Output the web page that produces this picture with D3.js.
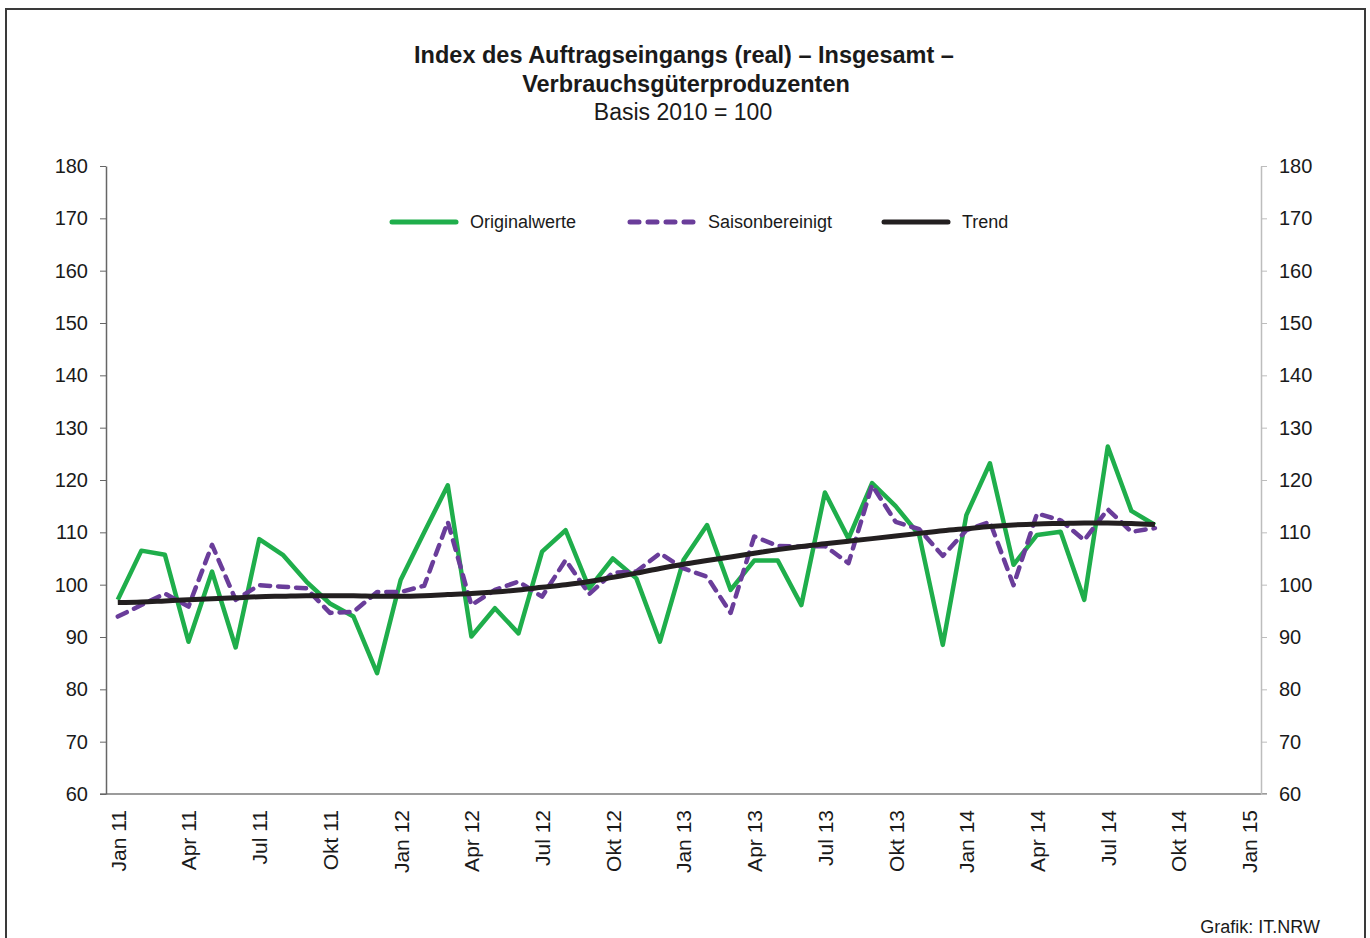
<!DOCTYPE html>
<html>
<head>
<meta charset="utf-8">
<script src="https://cdn.jsdelivr.net/npm/d3@7"></script>
<style>
  body { margin: 0; background: #fff; }
  svg { display: block; font-family: "Liberation Sans", Arial, sans-serif; }
</style>
</head>
<body>
<div id="chart"></div>
<script>
// month index 0 = Jan 11
const tickLabels = ["Jan 11", "Apr 11", "Jul 11", "Okt 11", "Jan 12", "Apr 12", "Jul 12", "Okt 12",
  "Jan 13", "Apr 13", "Jul 13", "Okt 13", "Jan 14", "Apr 14", "Jul 14", "Okt 14", "Jan 15"];

const originalwerte = [97.1, 106.5, 105.7, 89.1, 102.5, 88.0, 108.7, 105.7, 100.6, 96.4, 93.9, 83.1,
  100.9, 110.0, 119.0, 90.1, 95.5, 90.7, 106.3, 110.4, 99.3, 105.0, 101.2, 89.1,
  104.7, 111.4, 99.0, 104.6, 104.6, 96.1, 117.6, 108.8, 119.4, 115.0, 109.5, 88.5,
  113.3, 123.2, 103.8, 109.5, 110.1, 97.1, 126.4, 114.1, 111.4];

const saisonbereinigt = [93.9, 96.1, 98.3, 95.8, 107.6, 97.1, 99.9, 99.6, 99.3, 94.6, 94.8, 98.6,
  98.6, 99.8, 112.0, 96.1, 99.0, 100.6, 97.7, 104.7, 98.2, 102.3, 102.5, 106.0,
  103.1, 101.5, 94.6, 109.2, 107.4, 107.3, 107.4, 104.1, 119.0, 112.0, 110.6, 105.5,
  110.4, 112.0, 99.9, 113.6, 112.3, 108.5, 114.4, 110.1, 110.8];

const trend = [96.6, 96.7, 96.9, 97.1, 97.3, 97.5, 97.7, 97.8, 97.9, 97.9, 97.9, 97.8,
  97.8, 97.9, 98.1, 98.3, 98.6, 99.0, 99.5, 100.0, 100.6, 101.4, 102.2, 103.1,
  103.9, 104.6, 105.3, 106.0, 106.7, 107.3, 107.8, 108.3, 108.8, 109.3, 109.8, 110.3,
  110.7, 111.1, 111.4, 111.6, 111.7, 111.8, 111.8, 111.7, 111.5];

const yTicks = [60, 70, 80, 90, 100, 110, 120, 130, 140, 150, 160, 170, 180];

const width = 1370,
  height = 938,
  plot = { left: 106, right: 1261, top: 166, bottom: 794 };

const series = [
  { name: "Originalwerte", values: originalwerte, color: "#1fae4b", width: 4.5, dash: null },
  { name: "Saisonbereinigt", values: saisonbereinigt, color: "#6a3d9a", width: 4.5, dash: "10,8" },
  { name: "Trend", values: trend, color: "#231f20", width: 5, dash: null }
];

const svg = d3.select("#chart").append("svg")
  .attr("width", width)
  .attr("height", height);

// frame
svg.append("rect")
  .attr("x", 6).attr("y", 9)
  .attr("width", 1359).attr("height", 960)
  .attr("fill", "none")
  .attr("stroke", "#3a3a3a")
  .attr("stroke-width", 2);

// title
const title = svg.append("g").attr("text-anchor", "middle").attr("fill", "#1a1a1a");
title.append("text").attr("x", 684).attr("y", 63)
  .attr("font-size", 23.5).attr("font-weight", "bold")
  .text("Index des Auftragseingangs (real) – Insgesamt –");
title.append("text").attr("x", 686).attr("y", 92)
  .attr("font-size", 23.5).attr("font-weight", "bold")
  .text("Verbrauchsgüterproduzenten");
title.append("text").attr("x", 683).attr("y", 120)
  .attr("font-size", 23)
  .text("Basis 2010 = 100");

const x = d3.scaleLinear()
  .domain([-0.5, 48.5])
  .range([plot.left, plot.right]);

const y = d3.scaleLinear()
  .domain([60, 180])
  .range([plot.bottom, plot.top]);

// x axis
const xAxis = svg.append("g")
  .attr("transform", `translate(0,${plot.bottom})`)
  .call(d3.axisBottom(x)
    .tickValues(d3.range(0, 49, 3))
    .tickFormat((d, i) => tickLabels[i])
    .tickSize(0)
    .tickSizeOuter(0));
xAxis.select(".domain").attr("stroke", "#7a7a7a").attr("stroke-width", 1.5)
  .attr("d", `M${plot.left - 6},0H${plot.right + 6}`);
xAxis.selectAll("text")
  .attr("font-size", 21)
  .attr("fill", "#1a1a1a")
  .attr("text-anchor", "end")
  .attr("transform", "rotate(-90)")
  .attr("x", -16)
  .attr("y", 0)
  .attr("dy", "0.35em");

// left y axis
const yLeft = svg.append("g")
  .attr("transform", `translate(${plot.left},0)`)
  .call(d3.axisLeft(y).tickValues(yTicks).tickSize(6).tickSizeOuter(0).tickPadding(12));
yLeft.select(".domain").attr("stroke", "#666").attr("stroke-width", 1.5);
yLeft.selectAll(".tick line").attr("stroke", "#666");
yLeft.selectAll("text").attr("font-size", 20).attr("fill", "#1a1a1a");

// right y axis
const yRight = svg.append("g")
  .attr("transform", `translate(${plot.right},0)`)
  .call(d3.axisRight(y).tickValues(yTicks).tickSize(6).tickSizeOuter(0).tickPadding(12));
yRight.select(".domain").attr("stroke", "#bdbdbd").attr("stroke-width", 1.5);
yRight.selectAll(".tick line").attr("stroke", "#bdbdbd");
yRight.selectAll("text").attr("font-size", 20).attr("fill", "#1a1a1a");

// lines
const line = d3.line()
  .x((d, i) => x(i))
  .y(d => y(d));

svg.append("g").selectAll("path.series")
  .data(series)
  .join("path")
  .attr("class", "series")
  .attr("d", s => s.name === "Trend" ? line.curve(d3.curveMonotoneX)(s.values) : line.curve(d3.curveLinear)(s.values))
  .attr("fill", "none")
  .attr("stroke", s => s.color)
  .attr("stroke-width", s => s.width)
  .attr("stroke-dasharray", s => s.dash)
  .attr("stroke-linejoin", "round")
  .attr("stroke-linecap", s => s.dash ? "round" : "butt");

// legend
const legendX = [390, 628, 882];
const legend = svg.append("g").selectAll("g")
  .data(series)
  .join("g")
  .attr("transform", (s, i) => `translate(${legendX[i]},222)`);
legend.append("line")
  .attr("x1", 2).attr("x2", 66)
  .attr("stroke", s => s.color)
  .attr("stroke-width", 5)
  .attr("stroke-linecap", "round")
  .attr("stroke-dasharray", s => s.dash ? "9,9" : null);
legend.append("text")
  .attr("x", 80).attr("dy", "0.35em")
  .attr("font-size", 18)
  .attr("fill", "#1a1a1a")
  .text(s => s.name);

// source
svg.append("text")
  .attr("x", 1320).attr("y", 933)
  .attr("text-anchor", "end")
  .attr("font-size", 18)
  .attr("fill", "#1a1a1a")
  .text("Grafik: IT.NRW");
</script>
</body>
</html>
